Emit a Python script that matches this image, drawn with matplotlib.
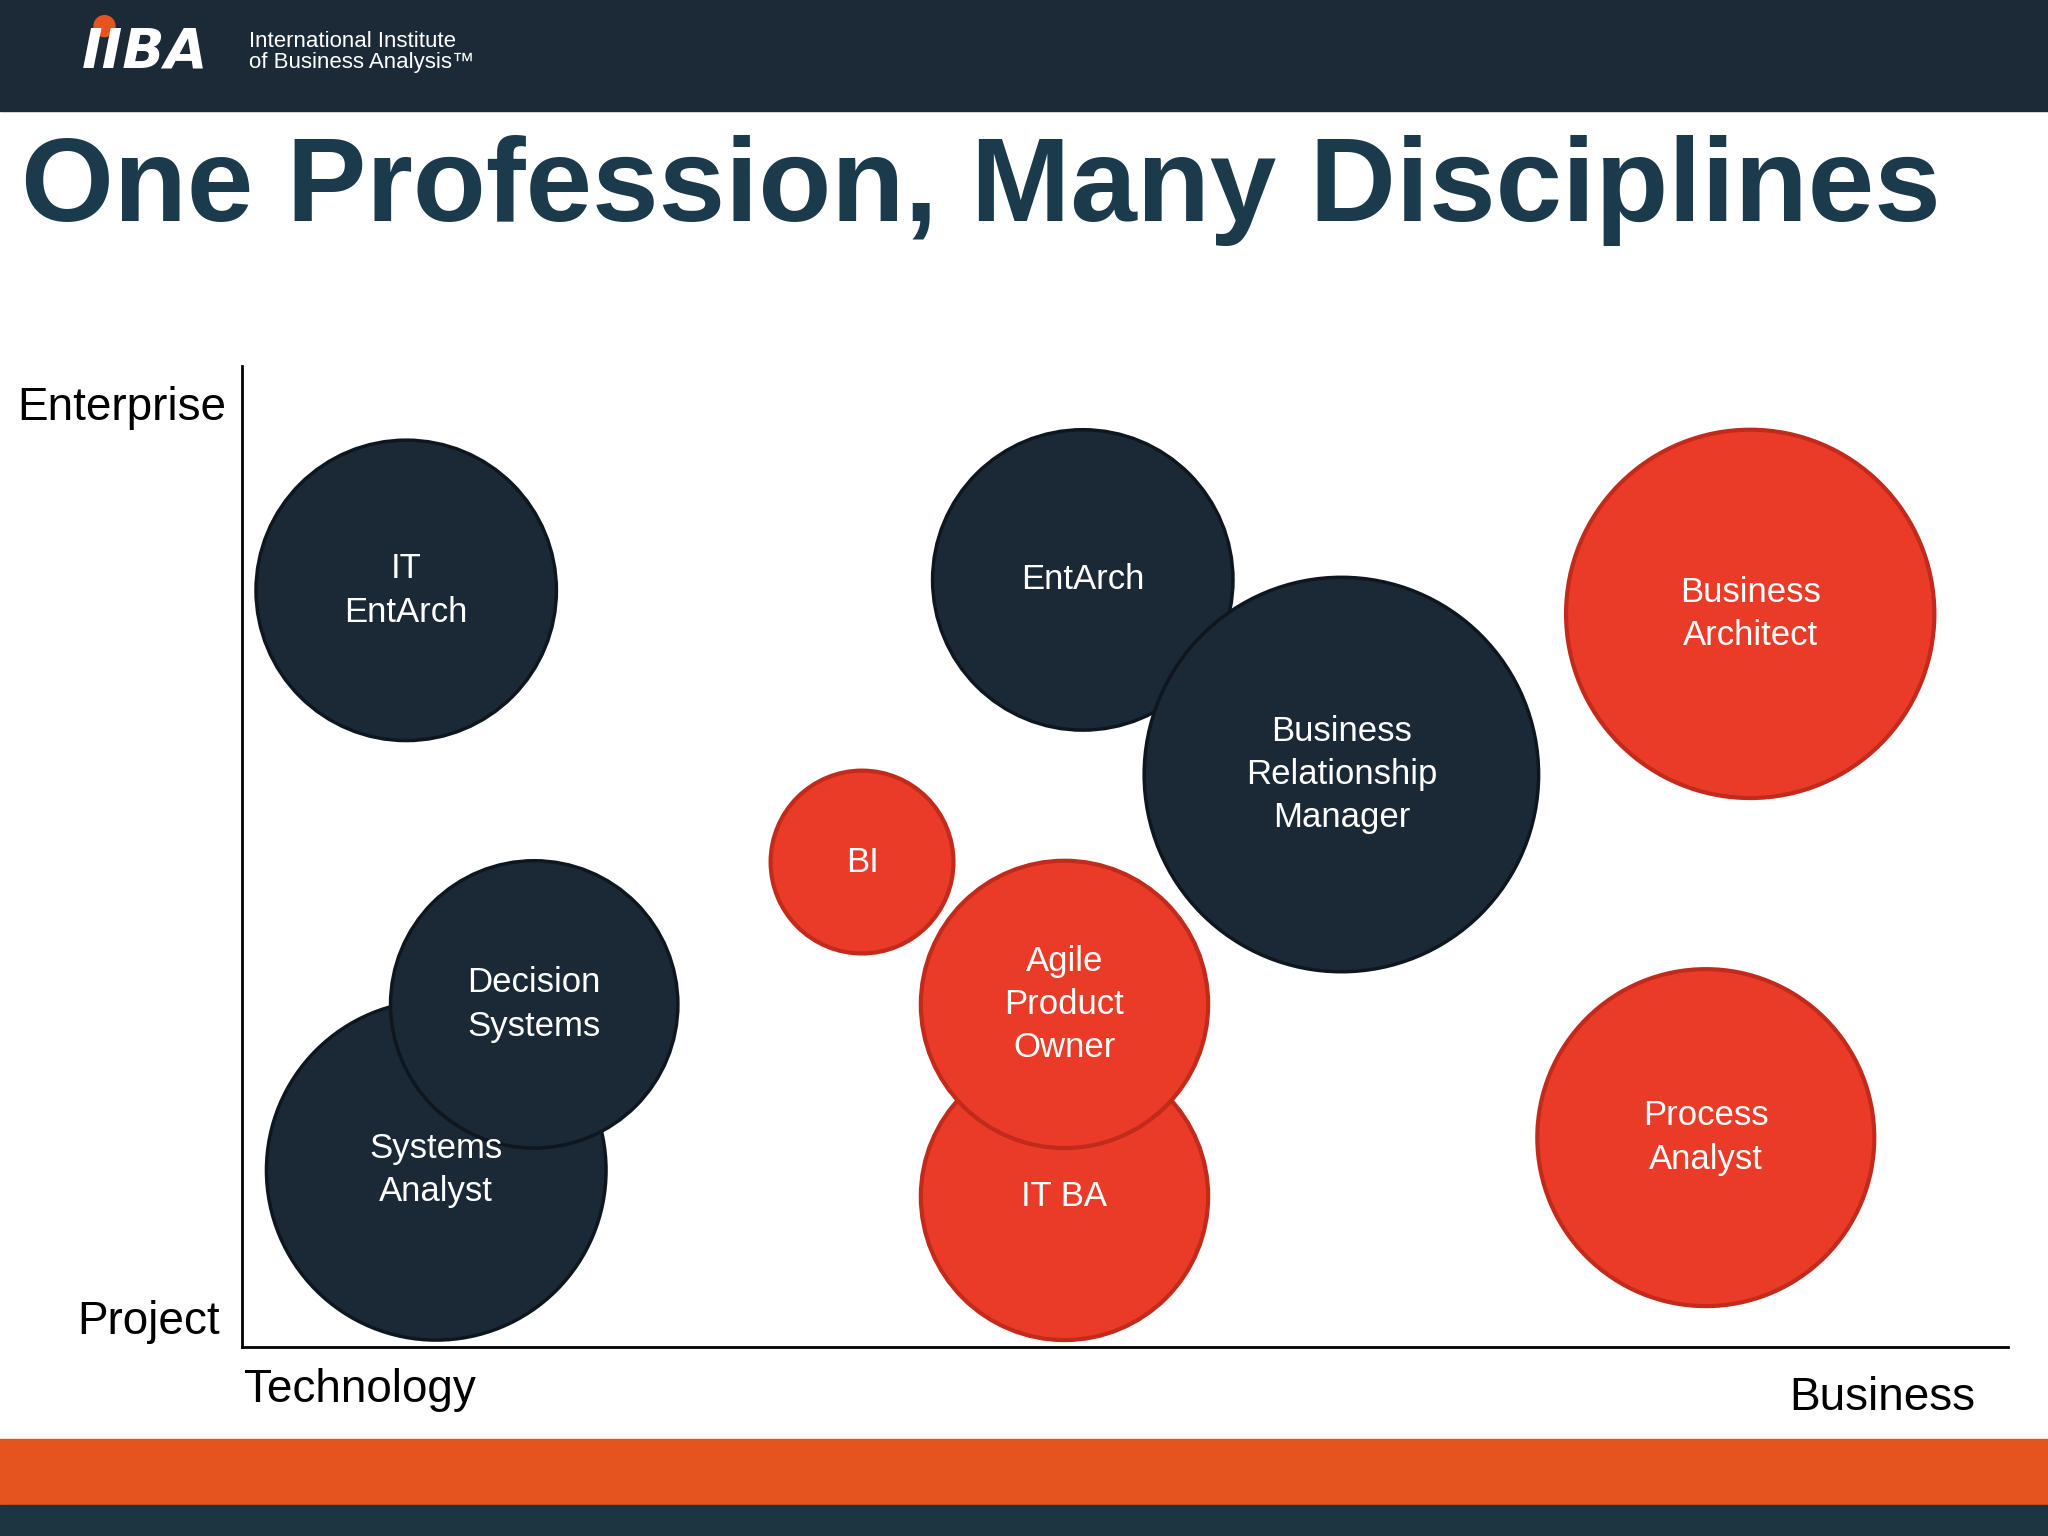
import matplotlib
matplotlib.use('Agg')
import matplotlib.pyplot as plt
from matplotlib.patches import Circle, Rectangle

# Bubble data (reference pixel units: x from left axis, y from bottom axis)
labels = ["IT\nEntArch", "EntArch", "Business\nRelationship\nManager", "Business\nArchitect",
          "BI", "Systems\nAnalyst", "Decision\nSystems", "IT BA", "Agile\nProduct\nOwner",
          "Process\nAnalyst"]
x_vals = [126, 644, 842, 1155, 475, 149, 224, 630, 630, 1121]
y_vals = [579, 587, 438, 561, 371, 135, 262, 115, 262, 160]
radii = [115, 115, 151, 141, 70, 130, 110, 110, 110, 129]
kinds = ["tech", "tech", "tech", "biz", "biz", "tech", "tech", "biz", "biz", "biz"]

DARK = '#1b2835'
RED = '#e93b27'
RED_EDGE = '#c22a1c'

W, H = 1568, 1176
fig = plt.figure(figsize=(20.48, 15.36), dpi=100)
bg = fig.add_axes([0, 0, 1, 1])
bg.set_xlim(0, W)
bg.set_ylim(H, 0)
bg.axis('off')

# header / footer bands
bg.add_patch(Rectangle((0, 0), W, 85, color='#1c2a38'))
bg.add_patch(Rectangle((0, 1102), W, 50, color='#e5531f'))
bg.add_patch(Rectangle((0, 1152), W, 24, color='#1d3441'))

# logo
bg.text(63, 40, "IIBA", color='white', fontsize=40, fontweight='bold', style='italic',
        va='center', ha='left', family='DejaVu Sans')
bg.add_patch(Circle((80, 20), 8, color='#e5531f'))
bg.text(191, 40, "International Institute\nof Business Analysis\u2122", color='white',
        fontsize=16, va='center', ha='left', family='Liberation Sans', linespacing=1.0)

bg.text(16, 146, "One Profession, Many Disciplines", color='#1b3b4d', fontsize=86,
        fontweight='bold', va='center', ha='left', family='Liberation Sans')

# chart axes
ax = fig.add_axes([185 / W, (H - 1031) / H, (1537 - 185) / W, (1031 - 280) / H])
ax.set_xlim(0, 1537 - 185)
ax.set_ylim(0, 1031 - 280)
ax.set_aspect('equal')
for s in ['top', 'right']:
    ax.spines[s].set_visible(False)
for s in ['left', 'bottom']:
    ax.spines[s].set_linewidth(2)
    ax.spines[s].set_color('black')
ax.set_xticks([])
ax.set_yticks([])

for lab, x, y, r, k in zip(labels, x_vals, y_vals, radii, kinds):
    if k == 'tech':
        c = Circle((x, y), r, facecolor=DARK, edgecolor='#0e161f', lw=2.5, clip_on=False)
    else:
        c = Circle((x, y), r, facecolor=RED, edgecolor=RED_EDGE, lw=3, clip_on=False)
    ax.add_patch(c)
    ax.text(x, y, lab, color='white', fontsize=25, ha='center', va='center',
            linespacing=1.4, family='Liberation Sans', clip_on=False)

fs = 33
bg.text(173, 312, "Enterprise", fontsize=fs, ha='right', va='center', family='Liberation Sans')
bg.text(168, 1012, "Project", fontsize=fs, ha='right', va='center', family='Liberation Sans')
bg.text(187, 1064, "Technology", fontsize=fs, ha='left', va='center', family='Liberation Sans')
bg.text(1512, 1070, "Business", fontsize=fs, ha='right', va='center', family='Liberation Sans')

fig.savefig('out.png', dpi=100)
